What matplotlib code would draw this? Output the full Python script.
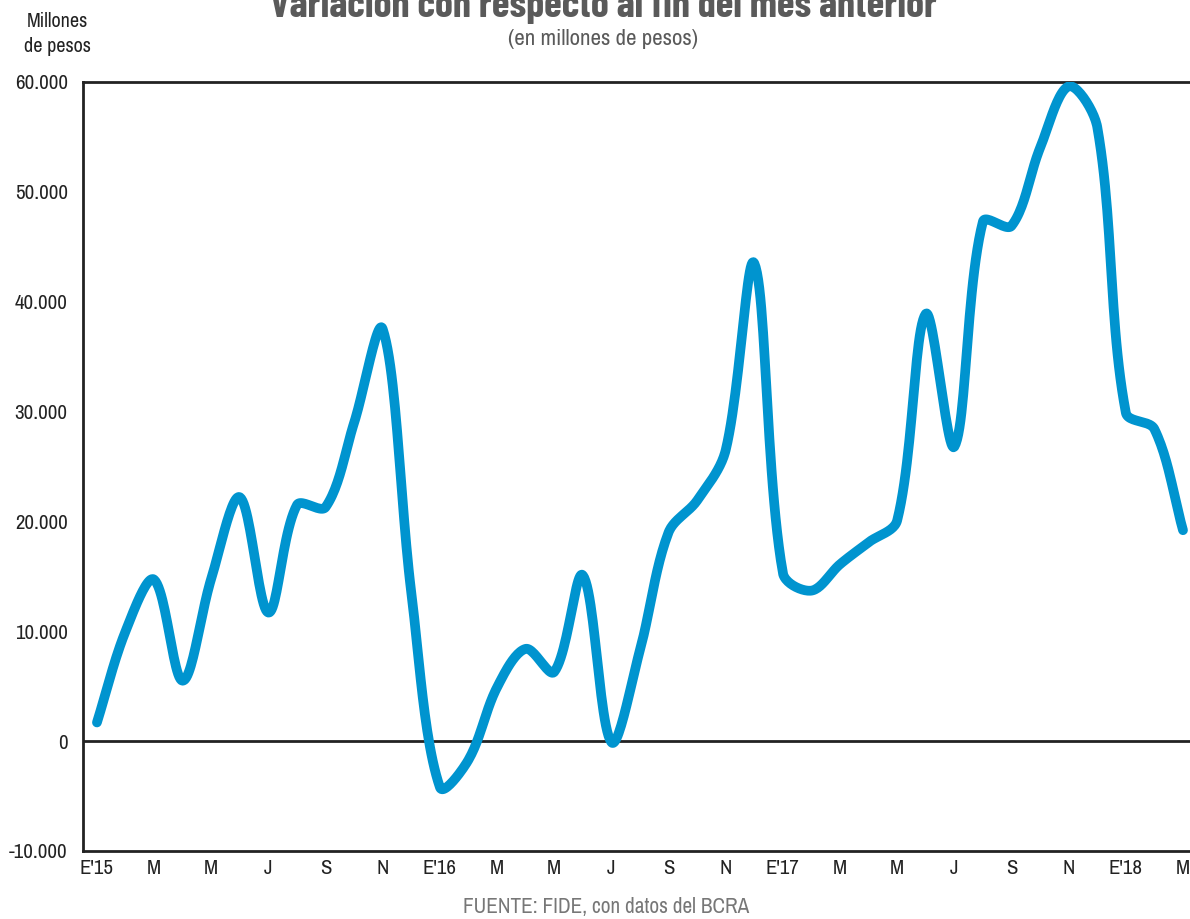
import matplotlib
matplotlib.use("Agg")
import matplotlib.pyplot as plt
import numpy as np

# monthly change, millones de pesos (Jan 2015 - Mar 2018)
values = [1700, 10000, 14700, 5500, 14800, 22200, 11700, 21500, 21300, 29000, 37500, 13500,
          -4200, -1700, 4900, 8400, 6300, 15100, -100, 8300, 19000, 21900, 26500, 43500,
          15300, 13700, 16100, 18100, 20100, 38900, 26800, 47300, 46900, 54000, 59600, 55900,
          29900, 28400, 19200]
tick_labels = ["E'15", "M", "M", "J", "S", "N", "E'16", "M", "M", "J", "S", "N",
               "E'17", "M", "M", "J", "S", "N", "E'18", "M"]
y_ticks = [-10000, 0, 10000, 20000, 30000, 40000, 50000, 60000]

plt.rcParams['font.family'] = ['Archivo Narrow', 'Liberation Sans', 'DejaVu Sans']

grey = '#5a5a5a'
blue = '#0094cf'


def smooth(x, y, sx_, sy_, n=24, k=1 / 3):
    # bezier smoothing with tangents weighted by segment length (spreadsheet-like)
    p = np.column_stack([np.asarray(x) * sx_, np.asarray(y) * sy_]).astype(float)
    p = np.vstack([p[0], p, p[-1]])
    xs, ys = [], []
    t = np.linspace(0, 1, n, endpoint=False)
    for i in range(1, len(p) - 2):
        p0, p1, p2, p3 = p[i - 1], p[i], p[i + 1], p[i + 2]
        d01 = np.hypot(*(p1 - p0)); d12 = np.hypot(*(p2 - p1)); d23 = np.hypot(*(p3 - p2))
        c1 = p1 + (p2 - p0) * k * d12 / max(d01 + d12, 1e-9)
        c2 = p2 - (p3 - p1) * k * d12 / max(d12 + d23, 1e-9)
        pts = ((1 - t)[:, None] ** 3 * p1 + 3 * ((1 - t) ** 2 * t)[:, None] * c1
               + 3 * ((1 - t) * t ** 2)[:, None] * c2 + (t ** 3)[:, None] * p2)
        xs.extend(pts[:, 0]); ys.extend(pts[:, 1])
    xs.append(p[-2][0]); ys.append(p[-2][1])
    return np.array(xs) / sx_, np.array(ys) / sy_


x = np.arange(len(values))
sx, sy = smooth(x, values, 28.6, 0.011)

fig = plt.figure(figsize=(11.9, 9.19), dpi=100)
ax = fig.add_axes([0.0697, 0.074, 0.9303, 0.8368])

ax.axhline(0, color='#222222', lw=2.0, zorder=1)
ax.plot(sx, sy, color=blue, lw=7, solid_capstyle='round', solid_joinstyle='round', zorder=3)

ax.set_xlim(-0.49, 38.245)
ax.set_ylim(-10000, 60000)
ax.set_xticks(np.arange(0, 39, 2))
ax.set_xticklabels(tick_labels)
ax.set_yticks(y_ticks)
ax.set_yticklabels([f"{v:,}".replace(",", ".") for v in y_ticks])
ax.tick_params(length=0, labelsize=15, colors='#222222', pad=6)
ax.tick_params(axis='y', pad=11)

for s in ['left', 'bottom', 'top']:
    ax.spines[s].set_color('#222222')
    ax.spines[s].set_linewidth(2.0)
ax.spines['right'].set_visible(False)

fig.text(0.507, 0.994, "Variación con respecto al fin del mes anterior", ha='center', va='center',
         fontsize=29, fontweight='bold', color=grey,
         family=['Barlow Condensed', 'Archivo Narrow', 'DejaVu Sans'])
fig.text(0.507, 0.958, "(en millones de pesos)", ha='center', va='center', fontsize=16.5, color=grey)
fig.text(0.048, 0.963, "Millones\nde pesos", ha='center', va='center', fontsize=14.5,
         color='#222222', linespacing=1.45)
fig.text(0.509, 0.013, "FUENTE: FIDE, con datos del BCRA", ha='center', va='center',
         fontsize=15.3, color='#777777')

fig.savefig("out.png", dpi=100)
